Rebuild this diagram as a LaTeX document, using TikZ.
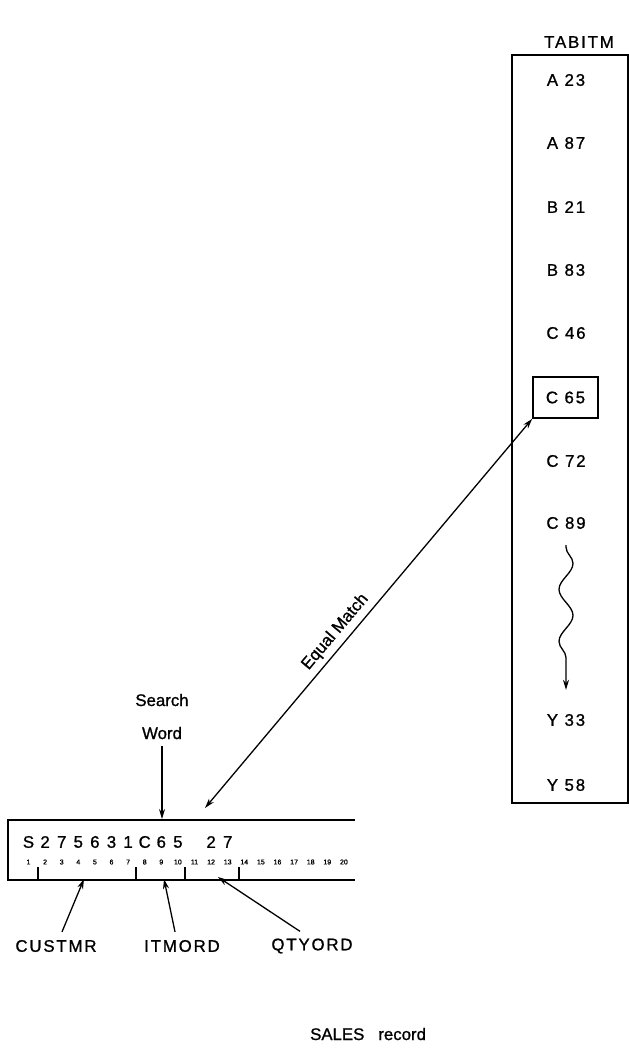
\documentclass[tikz,border=0pt]{standalone}
\usepackage{fontspec}
\setmainfont{Liberation Sans}[FakeBold=1]
\newfontfamily\capsfont{Liberation Sans}[LetterSpace=11,FakeBold=1]
\usetikzlibrary{arrows.meta,decorations.pathmorphing}
\begin{document}
\begin{tikzpicture}[x=1pt,y=-1pt,
  lbl/.style={font=\capsfont\fontsize{16.8}{20}\selectfont, inner sep=0pt},
  txt/.style={font=\fontsize{16.8}{20}\selectfont, inner sep=0pt},
  tiny/.style={font=\fontsize{7}{8}\selectfont, inner sep=0pt},
  arr/.style={-{Stealth[length=10pt,width=6pt]}, line width=1.3pt},
  dblarr/.style={{Stealth[length=10pt,width=6pt]}-{Stealth[length=10pt,width=6pt]}, line width=1.3pt},
  frame/.style={line width=1.9pt},
  tick/.style={line width=1.3pt}]
\useasboundingbox (0,0) rectangle (629,1050);

% table TABITM
\node[lbl] (title) at (579,42) {TABITM};
\node[draw, frame, minimum width=116pt, minimum height=748pt, inner sep=0pt] (tab) at (570,429) {};
\foreach \t/\yy/\n in {A 23/80/a1, A 87/143/a2, B 21/207/b1, B 83/270/b2, C 46/333/c1,
                      C 72/461/c3, C 89/523/c4, Y 33/720/y1, Y 58/785/y2}
  \node[lbl] (\n) at (566,\yy) {\t};
\node[lbl, draw, line width=1.7pt, minimum width=65pt, minimum height=41pt] (c65) at (565.5,397.5) {C 65};

% wavy arrow
\draw[arr, decorate, decoration={snake, segment length=52pt, amplitude=7pt, pre length=2pt, post length=8pt}]
  ([yshift=-16pt]c4.south) -- ([yshift=24pt]y1.north);

% record
\coordinate (rTL) at (8,820);
\coordinate (rTR) at (355,820);
\coordinate (rBL) at (8,880);
\coordinate (rBR) at (355,880);
\draw[frame] (rTR) -- (rTL) -- (rBL) -- (rBR);
\foreach \xx in {38,136,185,239} \draw[tick] (\xx,880) -- (\xx,867);
\foreach \c/\k in {S/1,2/2,7/3,5/4,6/5,3/6,1/7,C/8,6/9,5/10,2/12,7/13}
  \node[txt] (d\k) at ({28.5+(\k-1)*16.6},842) {\c};
\foreach \k in {1,...,20}
  \node[tiny] (n\k) at ({28.5+(\k-1)*16.6},862) {\k};

% search word
\node[txt] (search) at (162,700) {Search};
\node[txt] (word) at (162,733) {Word};
\coordinate (swTip) at (162,819);
\draw[arr] ([yshift=-7pt]word.south) -- (swTip);

% equal match
\coordinate (emTip) at (205,808);
\draw[dblarr] (emTip) -- (c65.south west)
  node[txt, pos=0.43, sloped, above=5pt] (em) {Equal Match};

% field labels
\node[lbl] (cust) at (56,946) {CUSTMR};
\node[lbl] (itm) at (182,946) {ITMORD};
\node[lbl] (qty) at (312,946) {QTYORD};
\coordinate (cuTip) at (84,879);
\coordinate (imTip) at (164,879);
\coordinate (qtTip) at (218,877);
\draw[arr] ([xshift=6pt,yshift=8pt]cust.north) -- (cuTip);
\draw[arr] ([xshift=-7pt,yshift=8pt]itm.north) -- (imTip);
\draw[arr] ([xshift=-12pt,yshift=7pt]qty.north) -- (qtTip);

% caption
\node[txt, anchor=west] (sales) at (310,1034) {SALES\hspace{14pt}record};
\end{tikzpicture}
\end{document}
